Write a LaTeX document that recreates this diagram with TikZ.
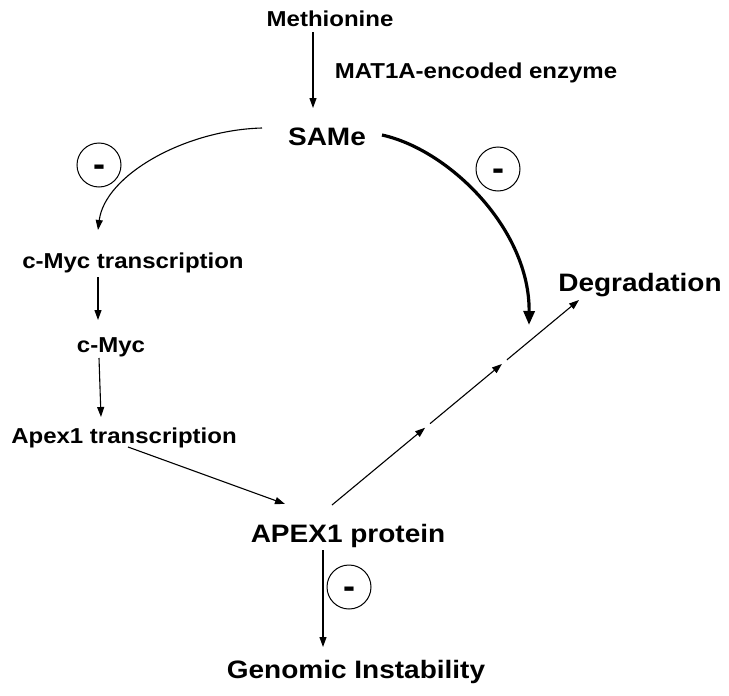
\documentclass[tikz,border=0pt]{standalone}
\usepackage{fontspec}
\setmainfont{Liberation Sans}
\usetikzlibrary{arrows.meta,calc}
\newcommand{\sqz}[1]{\scalebox{1}[0.9]{#1}}
\newcommand{\mns}{\raisebox{-11.5pt}{-}}
\begin{document}
\begin{tikzpicture}[x=1pt,y=-1pt,
  lbl/.style={inner sep=0pt, anchor=base, font=\bfseries\fontsize{24}{28}\selectfont},
  biglbl/.style={inner sep=0pt, anchor=base, font=\bfseries\fontsize{28}{32}\selectfont},
  arr/.style={-{Triangle[length=10pt,width=7pt]}, line width=1.1pt},
  thickarr/.style={-{Triangle[length=14pt,width=11pt]}, line width=3.2pt},
  neg/.style={circle, draw, line width=1pt, minimum size=44pt, inner sep=0pt,
    text height=0pt, text depth=0pt, font=\bfseries\fontsize{36}{38}\selectfont},
]
\useasboundingbox (0,0) rectangle (729,696);

% nodes
\node[lbl] (meth) at (330,27) {\sqz{Methionine}};
\node[lbl] (mat) at (476,78) {\sqz{MAT1A-encoded enzyme}};
\node[biglbl] (same) at (327,145) {\sqz{SAMe}};
\node[lbl] (cmt) at (133,268) {\sqz{c-Myc transcription}};
\node[lbl] (cmyc) at (111,352) {\sqz{c-Myc}};
\node[lbl] (at) at (124,443) {\sqz{Apex1 transcription}};
\node[biglbl] (apex) at (348,542) {\sqz{APEX1 protein}};
\node[biglbl] (degr) at (640,291) {\sqz{Degradation}};
\node[biglbl] (gen) at (356,678) {\sqz{Genomic Instability}};

\node[neg] (n1) at (99,165) {\mns};
\node[neg] (n2) at (498,169) {\mns};
\node[neg] (n3) at (349,587) {\mns};

% straight arrows
\draw[arr] ($(meth.base)+(-17,5)$) -- ($(same.base)+(-14,-37)$);
\draw[arr] ($(cmt.base)+(-35,9)$) -- ($(cmyc.base)+(-13,-32)$);
\draw[arr] ($(cmyc.base)+(-12,6)$) -- ($(at.base)+(-23,-26)$);
\draw[arr] ($(at.base)+(4,4)$) -- ($(apex.base)+(-63,-38)$);
\draw[arr] ($(apex.base)+(-25,8)$) -- ($(gen.base)+(-33,-31)$);

% curved arrows from SAMe
\draw[arr] ($(same.base)+(-65,-17)$) .. controls (185,130) and (105,175) .. ($(cmt.base)+(-35,-38)$);
\draw[thickarr] ($(same.base)+(55,-10)$) .. controls (450,150) and (530,230) .. ($(degr.base)+(-111,34)$);

% segmented arrow APEX1 -> Degradation
\coordinate (ds) at ($(apex.base)+(-16,-37)$);
\coordinate (de) at ($(degr.base)+(-61,9)$);
\coordinate (m1) at ($(ds)!0.377!(de)$);
\coordinate (m1b) at ($(ds)!0.397!(de)$);
\coordinate (m2) at ($(ds)!0.688!(de)$);
\coordinate (m2b) at ($(ds)!0.708!(de)$);
\draw[arr] (ds) -- (m1);
\draw[arr] (m1b) -- (m2);
\draw[arr] (m2b) -- (de);
\end{tikzpicture}
\end{document}
